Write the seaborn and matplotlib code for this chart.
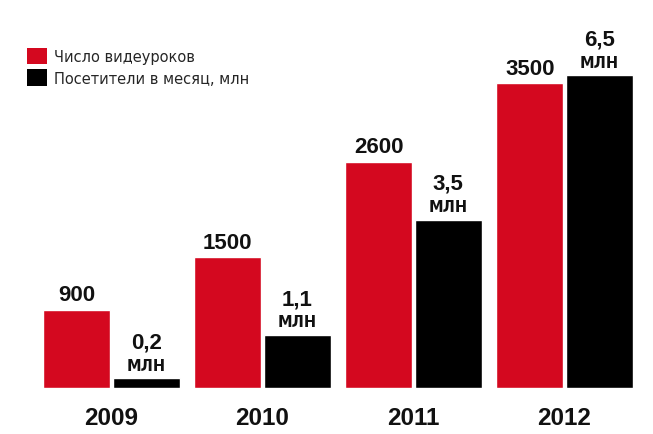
import numpy as np
import pandas as pd
import seaborn as sns
import matplotlib.pyplot as plt
from matplotlib.patches import Patch

# data
years = ['2009', '2010', '2011', '2012']
lessons = [900, 1500, 2600, 3500]
visitors = [0.2, 1.1, 3.5, 6.5]
series_names = ['Число видеуроков', 'Посетители в месяц, млн']
colors = ['#d4081f', '#000000']

df = pd.DataFrame({
    'year': years * 2,
    'series': [series_names[0]] * 4 + [series_names[1]] * 4,
    'value': lessons + visitors,
})
# each series on its own scale, so mask the other one out
df['lessons'] = df['value'].where(df['series'] == series_names[0])
df['visitors'] = df['value'].where(df['series'] == series_names[1])

sns.set_theme(style='white')
plt.rcParams['font.family'] = ['Liberation Sans', 'DejaVu Sans']

fig = plt.figure(figsize=(6.53, 4.35), dpi=100)
ax1 = fig.add_axes([36 / 653, 46 / 435, 604 / 653, 349 / 435])
ax2 = ax1.twinx()

palette = dict(zip(series_names, colors))
sns.barplot(data=df, x='year', y='lessons', hue='series', hue_order=series_names,
            palette=palette, width=0.92, gap=0.03, errorbar=None, legend=False,
            saturation=1, ax=ax1)
sns.barplot(data=df, x='year', y='visitors', hue='series', hue_order=series_names,
            palette=palette, width=0.92, gap=0.03, errorbar=None, legend=False,
            saturation=1, ax=ax2)

ax1.set_ylim(0, 4007)
ax2.set_ylim(0, 7.25)

# value labels
for bar in ax1.patches:
    h = bar.get_height()
    if not np.isfinite(h) or h == 0:
        continue
    ax1.annotate(f'{int(h)}', (bar.get_x() + bar.get_width() / 2, h),
                 xytext=(0, 3), textcoords='offset points', ha='center', va='bottom',
                 fontsize=16, fontweight='bold', color='#111111')

for bar in ax2.patches:
    h = bar.get_height()
    if not np.isfinite(h) or h == 0:
        continue
    x = bar.get_x() + bar.get_width() / 2
    ax2.annotate('МЛН', (x, h), xytext=(0, 4), textcoords='offset points',
                 ha='center', va='bottom', fontsize=10.5, fontweight='bold',
                 family='DejaVu Sans', color='#111111')
    ax2.annotate(f'{h:.1f}'.replace('.', ','), (x, h), xytext=(0, 18.5),
                 textcoords='offset points', ha='center', va='bottom',
                 fontsize=16, fontweight='bold', color='#111111')

# axes cleanup
for ax in (ax1, ax2):
    sns.despine(ax=ax, left=True, right=True, top=True, bottom=True)
    ax.set_ylabel('')
    ax.set_xlabel('')
    ax.set_yticks([])
ax1.tick_params(axis='x', length=0, pad=13)
for lbl in ax1.get_xticklabels():
    lbl.set_fontsize(17.5)
    lbl.set_fontweight('bold')
    lbl.set_color('#111111')

# legend top-left
handles = [Patch(facecolor=c, edgecolor='none') for c in colors]
fig.legend(handles, series_names, loc='upper left',
           bbox_to_anchor=(27 / 653, 1 - 49 / 435), bbox_transform=fig.transFigure,
           frameon=False, handlelength=1.35, handleheight=1.35, handletextpad=0.5,
           labelspacing=0.35, borderpad=0, borderaxespad=0,
           prop={'family': 'DejaVu Sans', 'size': 10.5})

fig.savefig('out.png', dpi=100, facecolor='white')
